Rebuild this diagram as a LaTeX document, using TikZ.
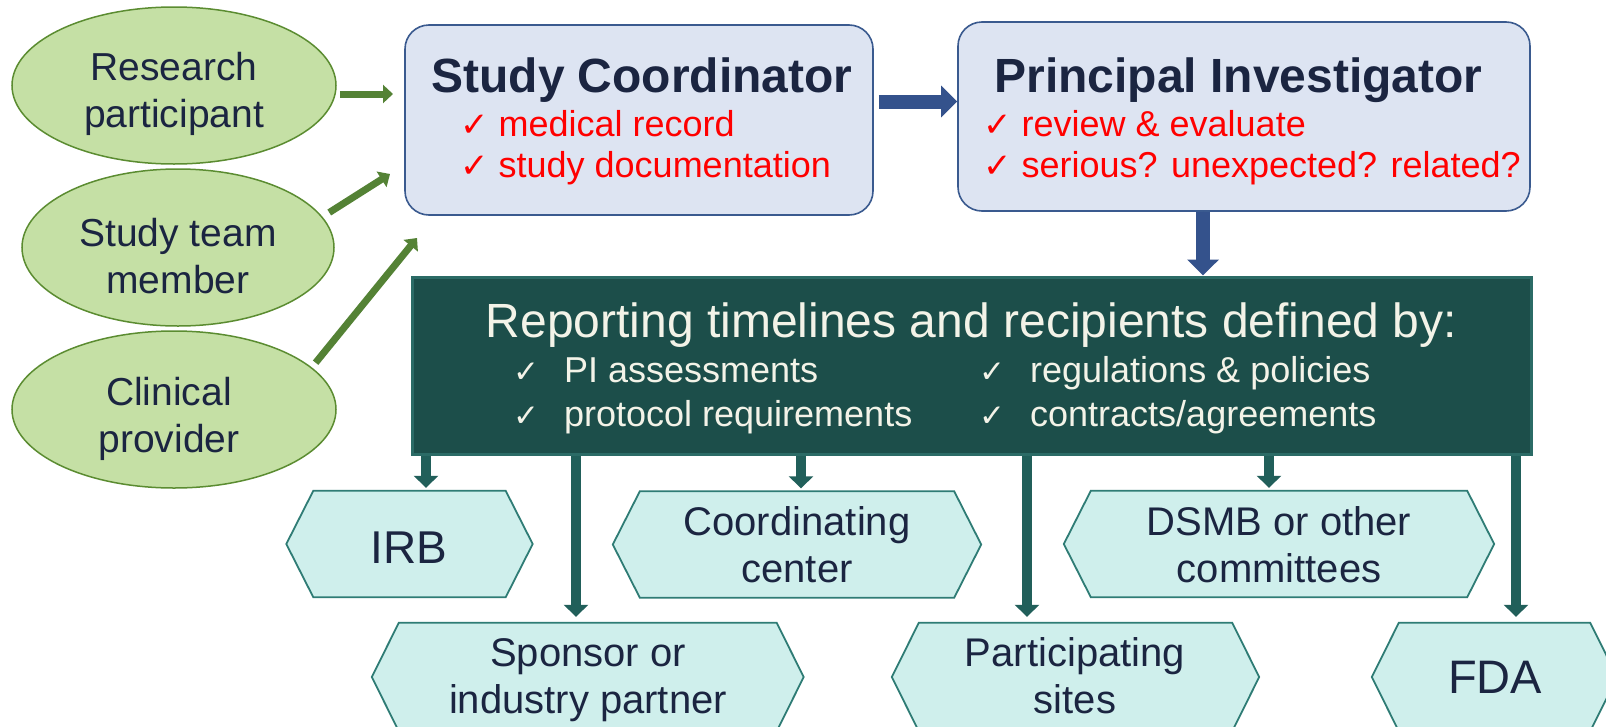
\documentclass[tikz,border=0pt]{standalone}
\usepackage{fontspec}
\setmainfont{Liberation Sans}
\newfontfamily\chkfont{DejaVu Sans}
\usetikzlibrary{arrows.meta,shapes.geometric}

\definecolor{navy}{HTML}{1B2541}
\definecolor{leaf}{HTML}{C5E0A5}
\definecolor{leafline}{HTML}{5B8C31}
\definecolor{leafarrow}{HTML}{548235}
\definecolor{paleblue}{HTML}{DDE4F2}
\definecolor{boxblue}{HTML}{3A5A8F}
\definecolor{arrowblue}{HTML}{34528C}
\definecolor{deepteal}{HTML}{1C4E4A}
\definecolor{tealline}{HTML}{2B6B66}
\definecolor{tealarrow}{HTML}{215F5A}
\definecolor{mint}{HTML}{CFEFEC}
\definecolor{mintline}{HTML}{2F7C75}
\definecolor{cream}{HTML}{F3F3E8}
\definecolor{alert}{HTML}{FF0000}

\newcommand{\fs}[2]{\fontsize{#1}{#2}\selectfont}
\newcommand{\twolines}[2]{\begin{tabular}[t]{@{}c@{}}#1\\#2\end{tabular}}
\newcommand{\redtick}{{\chkfont\fs{34}{40}✓}}
\newcommand{\ticked}[1]{{\chkfont\fs{31}{36}✓}\hspace{25pt}#1}

\tikzset{
  oval/.style={ellipse, draw=leafline, fill=leaf, line width=1.5pt, inner sep=0pt},
  card/.style={rectangle, rounded corners=24pt, draw=boxblue, fill=paleblue,
    line width=1.6pt, inner sep=0pt},
  banner/.style={rectangle, draw=tealline, fill=deepteal, line width=3pt, inner sep=0pt},
  hexslot/.style={rectangle, inner sep=0pt},
  hexline/.style={draw=mintline, fill=mint, line width=1.8pt, line join=miter},
  lbl/.style={inner sep=0pt, anchor=base, text=navy},
  ovaltext/.style={lbl, font=\fs{39}{47}},
  hextext/.style={lbl, font=\fs{40}{47}},
  bigtext/.style={lbl, font=\fs{46}{52}},
  cardtitle/.style={lbl, font=\bfseries\fs{48}{54}},
  redline/.style={inner sep=0pt, anchor=base west, text=alert, font=\fs{36}{42}},
  creamline/.style={inner sep=0pt, anchor=base west, text=cream, font=\fs{36}{42}},
  greenarrow/.style={draw=leafarrow, line width=7pt,
    -{Triangle[length=10pt,width=18pt]}},
  bluearrow/.style={draw=arrowblue, fill=arrowblue, line width=14pt,
    -{Triangle[length=16pt,width=31pt]}},
  tealarrow/.style={draw=tealarrow, fill=tealarrow, line width=10pt,
    -{Triangle[length=12pt,width=24pt]}},
}

\begin{document}
\begin{tikzpicture}[x=1pt, y=-1pt]
\fill[white] (0,0) rectangle (1606,726);
\path[use as bounding box] (0,0) rectangle (1606,726);

% --- sources of information (left column) ---
\node[oval, minimum width=324pt, minimum height=157pt] (rp) at (174,85.5) {};
\node[ovaltext] (rpt) at (174,80) {\twolines{Research}{participant}};
\node[oval, minimum width=312pt, minimum height=157pt] (stm) at (178,247.5) {};
\node[ovaltext] (stmt) at (178,246) {\twolines{Study team}{member}};
\node[oval, minimum width=324pt, minimum height=157pt] (cp) at (174,409.5) {};
\node[ovaltext] (cpt) at (169,405) {\twolines{Clinical}{provider}};

% --- study coordinator and principal investigator ---
\node[card, minimum width=468pt, minimum height=190pt] (sc) at (639,120) {};
\node[cardtitle] (sct) at (642,92) {Study Coordinator};
\node[redline] (sc1) at (460,136) {\redtick\ medical record};
\node[redline] (sc2) at (460,177) {\redtick\ study documentation};

\node[card, minimum width=572pt, minimum height=189pt] (pi) at (1244,116.5) {};
\node[cardtitle] (pit) at (1238.5,92) {Principal Investigator};
\node[redline] (pi1) at (983,136) {\redtick\ review \& evaluate};
\node[redline] (pi2) at (983,177) {\redtick\ serious? unexpected? related?};

% --- reporting banner ---
\node[banner, minimum width=1119pt, minimum height=177pt] (rb) at (971.5,365.5) {};
\node[lbl, text=cream, font=\fs{48}{54}] (rbt) at (971.5,337)
  {Reporting timelines and recipients defined by:};
\node[creamline] (rb1) at (513,382) {\ticked{PI assessments}};
\node[creamline] (rb2) at (513,426) {\ticked{protocol requirements}};
\node[creamline] (rb3) at (979,382) {\ticked{regulations \& policies}};
\node[creamline] (rb4) at (979,426) {\ticked{contracts/agreements}};

% --- recipients ---
\node[hexslot, minimum width=246pt, minimum height=106pt] (irb) at (409.5,544) {};
\node[hexslot, minimum width=368pt, minimum height=106pt] (coord) at (797,544.5) {};
\node[hexslot, minimum width=430pt, minimum height=106pt] (dsmb) at (1279,544) {};
\node[hexslot, minimum width=431.5pt, minimum height=108pt] (spon) at (587.75,677) {};
\node[hexslot, minimum width=367pt, minimum height=108pt] (part) at (1075.5,677) {};
\node[hexslot, minimum width=245pt, minimum height=108pt] (fda) at (1494.5,677) {};
\foreach \n in {irb,coord,dsmb,spon,part,fda}
  \path[hexline] (\n.west) -- ([xshift=27pt]\n.north west) -- ([xshift=-27pt]\n.north east)
    -- (\n.east) -- ([xshift=-27pt]\n.south east) -- ([xshift=27pt]\n.south west) -- cycle;

\node[bigtext] (irbt) at (409,563) {IRB};
\node[hextext] (coordt) at (797,535) {\twolines{Coordinating}{center}};
\node[hextext] (dsmbt) at (1279,535) {\twolines{DSMB or other}{committees}};
\node[hextext] (spont) at (588,666) {\twolines{Sponsor or}{industry partner}};
\node[hextext] (partt) at (1075,666) {\twolines{Participating}{sites}};
\node[bigtext, font=\fs{47}{52}] (fdat) at (1495,693) {FDA};

% --- connectors ---
\coordinate (g1) at (393,94);
\coordinate (g2) at (390,174);
\coordinate (g3) at (417,238);
\draw[greenarrow, shorten <=3pt] ([yshift=-8.5pt]rp.east) -- (g1);
\draw[greenarrow, shorten <=8pt] (stm.12) -- (g2);
\draw[greenarrow, shorten <=6pt] (cp.17) -- (g3);

\draw[bluearrow, shorten <=5pt] ([yshift=18.5pt]sc.east) -- ([yshift=15pt]pi.west);
\coordinate (drop) at (1203,0);
\draw[bluearrow] (pi.south -| drop) -- (rb.north -| drop);

\coordinate (xirb) at (426,0);
\coordinate (xspon) at (576,0);
\coordinate (xcoord) at (801,0);
\coordinate (xpart) at (1027,0);
\coordinate (xdsmb) at (1269,0);
\coordinate (xfda) at (1516,0);
\draw[tealarrow, shorten >=3pt] (rb.south -| xirb) -- (irb.north -| xirb);
\draw[tealarrow, shorten >=3pt] (rb.south -| xcoord) -- (coord.north -| xcoord);
\draw[tealarrow, shorten >=3pt] (rb.south -| xdsmb) -- (dsmb.north -| xdsmb);
\draw[tealarrow, shorten >=6pt] (rb.south -| xspon) -- (spon.north -| xspon);
\draw[tealarrow, shorten >=6pt] (rb.south -| xpart) -- (part.north -| xpart);
\draw[tealarrow, shorten >=6pt] (rb.south -| xfda) -- (fda.north -| xfda);
\end{tikzpicture}
\end{document}
